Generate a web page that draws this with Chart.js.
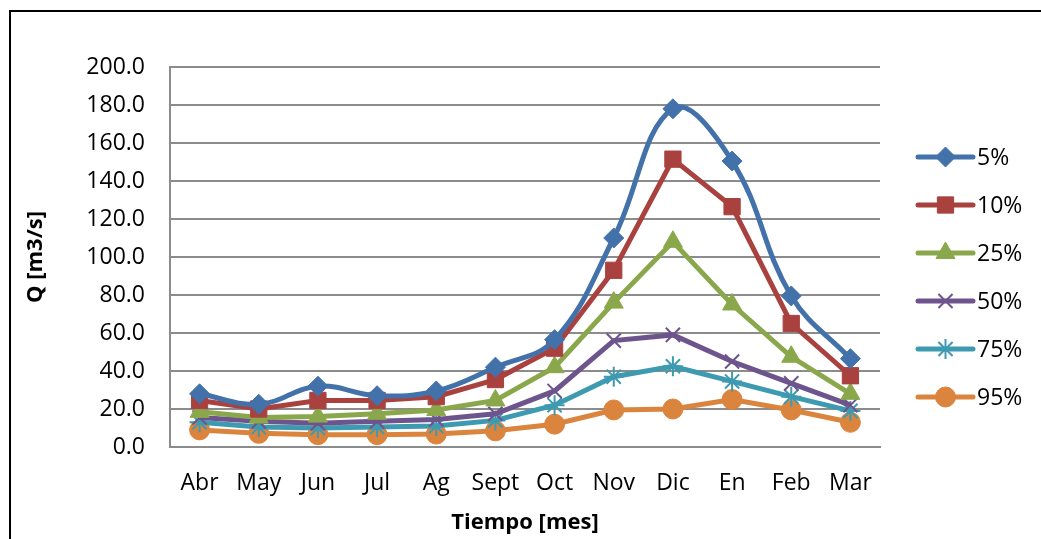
<!DOCTYPE html>
<html>
<head>
<meta charset="utf-8">
<script src="https://cdn.jsdelivr.net/npm/chart.js@4.4.1/dist/chart.umd.min.js"></script>
<style>
  html, body { margin: 0; padding: 0; background: #fff; overflow: hidden; }
  #wrap { position: relative; width: 1041px; height: 539px; }
  #frame { position: absolute; left: 9px; top: 10px; width: 1100px; height: 600px;
           border-top: 2px solid #000; border-left: 2px solid #000; }
  #chart { position: absolute; left: 0; top: 0; }
</style>
</head>
<body>
<div id="wrap">
  <div id="frame"></div>
  <canvas id="chart" width="1041" height="539"></canvas>
</div>
<script>
var meses = ["Abr", "May", "Jun", "Jul", "Ag", "Sept", "Oct", "Nov", "Dic", "En", "Feb", "Mar"];

var q5  = [28, 22.5, 32, 27, 29.5, 42, 56.5, 110, 178, 150.5, 79.5, 46.5];
var q10 = [24.5, 20, 24.5, 24.5, 26.5, 35.5, 52, 93, 151.5, 126.5, 65, 37.5];
var q25 = [18.5, 15.5, 16, 17.5, 19.5, 24.5, 42, 76, 108, 75, 47.5, 28];
var q50 = [15.5, 13.5, 12.5, 13.5, 14.5, 17.5, 29.5, 56, 59, 45, 33.5, 22];
var q75 = [13, 10.5, 10, 10.5, 11, 14, 22, 37, 42.5, 34.5, 26.5, 19];
var q95 = [9, 7.2, 6.5, 6.5, 6.8, 8.5, 12, 19.5, 20, 25, 19.5, 13];

var FONT = "'Open Sans', sans-serif";

function serie(label, data, color, style, radius, bw, tension) {
  return {
    label: label,
    data: data,
    borderColor: color,
    backgroundColor: color,
    borderWidth: 5,
    tension: tension || 0,
    pointStyle: style,
    pointRadius: radius,
    pointHoverRadius: radius,
    pointBackgroundColor: color,
    pointBorderColor: color,
    pointBorderWidth: bw
  };
}

// legend like Excel: line with marker in the middle
var excelLegend = {
  id: "excelLegend",
  afterDraw: function (chart) {
    var ctx = chart.ctx;
    var x0 = 918, x1 = 973, y = 157, step = 48;
    chart.data.datasets.forEach(function (ds) {
      ctx.save();
      ctx.strokeStyle = ds.borderColor;
      ctx.lineWidth = 5;
      ctx.lineCap = "round";
      ctx.beginPath();
      ctx.moveTo(x0, y);
      ctx.lineTo(x1, y);
      ctx.stroke();
      ctx.fillStyle = ds.pointBackgroundColor;
      ctx.strokeStyle = ds.pointBorderColor;
      ctx.lineWidth = ds.pointBorderWidth;
      ctx.lineCap = "butt";
      Chart.helpers.drawPoint(ctx, { pointStyle: ds.pointStyle, radius: ds.pointRadius, rotation: 0, borderWidth: ds.pointBorderWidth }, (x0 + x1) / 2, y);
      ctx.fillStyle = "#000";
      ctx.font = "23px " + FONT;
      ctx.textBaseline = "middle";
      ctx.textAlign = "left";
      ctx.fillText(ds.label, x1 + 4, y + 1);
      ctx.restore();
      y += step;
    });
  }
};

new Chart(document.getElementById("chart").getContext("2d"), {
  type: "line",
  data: {
    labels: meses,
    datasets: [
      serie("5%", q5, "#4372AA", "rectRot", 10, 1, 0.4),
      serie("10%", q10, "#A9423F", "rect", 11.5, 1),
      serie("25%", q25, "#8AA84B", "triangle", 11, 1),
      serie("50%", q50, "#6E548D", "crossRot", 10, 2),
      serie("75%", q75, "#3E9AB0", "star", 10, 2),
      serie("95%", q95, "#DB843D", "circle", 10, 1)
    ]
  },
  options: {
    responsive: false,
    devicePixelRatio: 1,
    animation: false,
    layout: { padding: { top: 67, right: 161, bottom: 0, left: 0 } },
    plugins: { legend: { display: false }, tooltip: { enabled: false } },
    scales: {
      x: {
        offset: true,
        grid: { display: false, drawTicks: false },
        border: { display: true, color: "#8c8c8c", width: 2 },
        ticks: { color: "#000", font: { family: FONT, size: 23 }, padding: 23, maxRotation: 0, autoSkip: false },
        title: { display: true, text: "Tiempo [mes]", color: "#000", font: { family: FONT, size: 22, weight: "bold" }, padding: { top: 0, bottom: 3 } },
        afterFit: function (s) { s.height = 92; }
      },
      y: {
        min: 0,
        max: 200,
        ticks: { stepSize: 20, color: "#000", font: { family: FONT, size: 23 }, padding: 25,
                 callback: function (v) { return v.toFixed(1); } },
        grid: { color: "#8c8c8c", lineWidth: 2, drawTicks: false },
        border: { display: true, color: "#8c8c8c", width: 2 },
        title: { display: true, text: "Q [m3/s]", color: "#000", font: { family: FONT, size: 22, weight: "bold" }, padding: { top: 23, bottom: 0 } },
        afterFit: function (s) { s.width = 170; }
      }
    }
  },
  plugins: [excelLegend]
});
</script>
</body>
</html>
